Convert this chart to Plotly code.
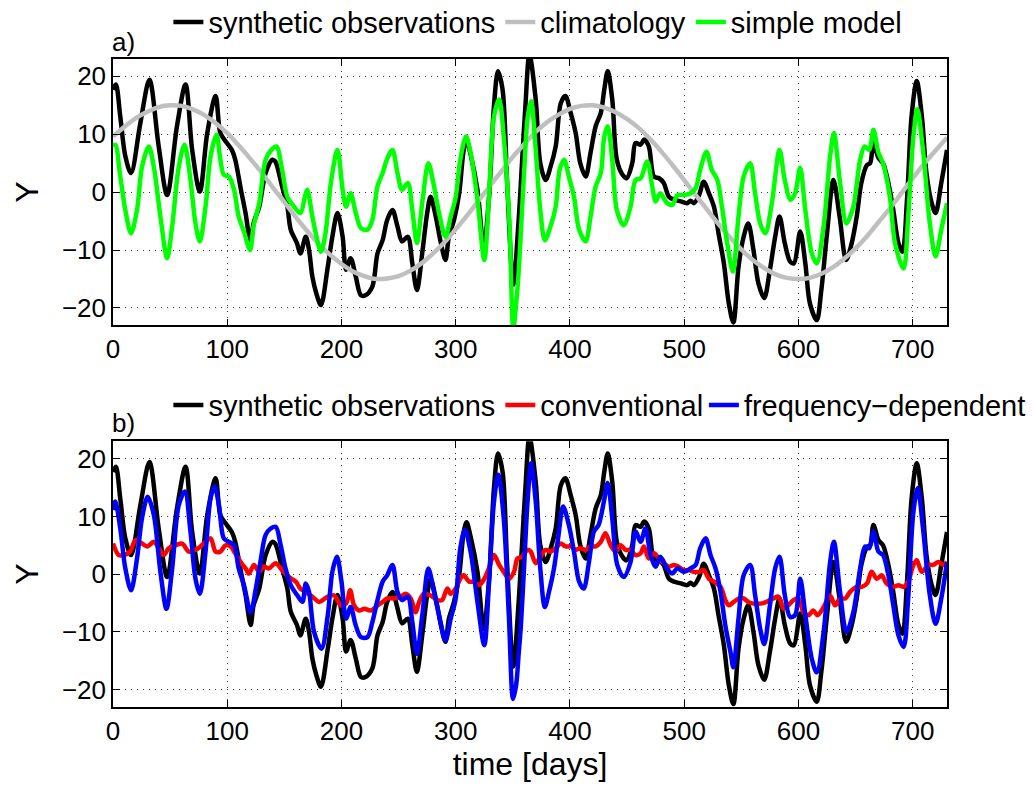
import plotly.graph_objects as go

# ---------------- data ----------------
obs_days = [0, 2.5, 6.4, 10.8, 15.8, 24, 31.9, 40, 47.4, 56, 63.5, 69.3, 76, 82.5, 89.8,
            94, 98.5, 104, 107, 112, 116, 120.5, 123, 128, 133.6, 139.5, 142, 148, 152.6,
            155.6, 161, 164, 168.7, 171.6, 174.5, 178, 182, 188, 192, 196.5, 201, 204, 208,
            212.5, 217, 221, 227, 231.5, 236, 240, 244.6, 249, 253, 258, 262, 266, 271, 275,
            278, 282.5, 287, 291, 294, 298.5, 303, 307, 309.5, 313, 319, 324.5, 329, 333.5,
            337, 341, 345, 350.4, 355, 358, 361, 364.5, 370, 374, 378.7, 383, 387.5, 392, 396,
            400.6, 405, 409, 413.7, 418, 422.5, 427, 430, 433, 437, 441, 446, 449.6, 454.5,
            457.4, 461.8, 465, 469, 473.5, 478, 482, 486.6, 491, 497, 502.6, 505.5, 508.5, 513,
            517, 521.6, 526, 530, 534.7, 539, 543, 547.5, 552, 556, 560.6, 565, 570, 575, 579.6,
            583.4, 588, 592.7, 596, 601.5, 606, 610, 616, 620, 625, 630.6, 636, 641.7, 646.6,
            651, 655, 660, 662.7, 665.6, 670, 674, 678.7, 683, 687.5, 691, 695, 699, 703.5, 708,
            712, 716.6, 720, 725, 730]
obs_vals = [17.7, 18.6, 13.0, 6.2, 3.3, 12.0, 19.4, 7.9, -0.5, 11.4, 18.6, 7.3, 0.1, 10.2, 16.6,
            10.2, 8.8, 7.3, 5.6, 0.4, -3.6, -8.8, -5.4, -2.5, 3.3, 5.6, 5.3, 1.0, -2.5,
            -6.5, -8.8, -10.6, -7.7, -10.0, -14.6, -17.5, -19.5, -12.9, -7.7, -3.6, -7.7, -13.4, -11.4,
            -14.6, -17.8, -17.8, -16.3, -10.6, -8.3, -4.8, -3.1, -5.9, -8.5, -7.7, -12.3, -16.9, -10.0, -3.6,
            -0.8, -4.2, -8.8, -11.7, -7.7, -4.8, -0.2, 7.3, 9.0, 6.5, 0.4, -9.5, -1.3, 15.0,
            20.9, 17.7, 1.6, -16.0, -5.0, 5.0, 15.0, 23.8, 16.0, 5.0, 2.1, 4.4, 7.9, 15.4, 16.6,
            13.7, 10.2, 5.0, 2.7, 6.8, 11.4, 13.7, 17.7, 20.9, 16.0, 5.6, 3.0, 2.4, 5.0,
            8.5, 8.2, 9.1, 7.9, 2.7, 2.4, 1.6, -0.8, -1.3, -1.6, -1.9, -1.5, -1.9, -0.5,
            1.8, -0.2, -2.5, -7.1, -12.3, -19.2, -22.5, -12.9, -7.7, -5.4, -10.0, -15.8, -18.3, -13.4, -7.7,
            -4.2, -8.8, -12.0, -12.3, -6.8, -12.3, -19.2, -22.1, -16.9, -7.1, 2.1, -4.2, -11.7, -8.8,
            -4.2, 1.6, 4.7, 5.0, 8.5, 5.9, 5.0, 1.6, -3.1, -8.8, -10.3, -1.3, 13.1, 19.2, 13.1,
            3.3, -1.9, -3.6, 1.6, 7.3]

clim_days = list(range(0, 731, 10))
clim_vals = [9.6, 11.3, 12.8, 13.9, 14.7, 15.0, 14.9, 14.3, 13.3, 11.9, 10.2, 8.1, 5.8, 3.4, 0.8,
             -1.7, -4.3, -6.7, -8.9, -10.8, -12.4, -13.7, -14.5, -15.0, -14.9, -14.5, -13.6, -12.3,
             -10.6, -8.7, -6.4, -4.0, -1.5, 1.1, 3.6, 6.1, 8.3, 10.4, 12.1, 13.4, 14.4, 14.9, 15.0,
             14.6, 13.8, 12.6, 11.1, 9.2, 7.0, 4.6, 2.1, -0.5, -3.0, -5.5, -7.8, -9.9, -11.7, -13.1,
             -14.2, -14.8, -15.0, -14.8, -14.1, -13.0, -11.5, -9.7, -7.6, -5.2, -2.8, -0.2, 2.4,
             4.9, 7.2, 9.4]

simple_days = [0, 2, 6.4, 10.8, 15.8, 21, 25.4, 31.3, 35.7, 41.5, 47.4, 51.8, 57.6, 62.6, 67.8,
               72.2, 76, 81, 85.4, 90.6, 94, 97, 101.5, 106, 110, 114.6, 120, 123, 128, 133.6,
               138.6, 143, 148, 152.6, 158.5, 164, 168, 170, 174.5, 177.5, 182, 186, 190.7, 196.5,
               201, 204, 208, 212.5, 217, 222.7, 227, 231.5, 236, 239.7, 244.6, 249, 253, 258, 262,
               266, 271, 276, 281, 285.4, 291, 295.6, 300, 304, 309, 313, 319, 325, 329, 333.5, 338,
               342, 347, 350.4, 353, 355, 357, 360, 363, 366, 370, 374, 378, 383, 387.5, 391, 394.8,
               399, 403.5, 408, 413.7, 418, 422.5, 427, 430, 433, 437, 441, 447, 453, 457.4, 461.8,
               467.6, 472, 475, 479, 485, 489.5, 494, 499.7, 505.5, 510, 514, 519.5, 524, 529, 533,
               537.6, 542.6, 547.5, 552, 557.7, 562, 566.5, 571, 576.7, 583.4, 588, 593, 597, 601.5,
               606, 611.7, 616, 622, 627.7, 631, 636.4, 642, 648, 654, 658, 662, 665.6, 670, 674, 680,
               684.5, 692, 696, 700.6, 704, 709, 715, 720, 725, 730]
simple_vals = [7.9, 8.2, 2.7, -3.1, -7.1, -3.1, 4.4, 7.9, 4.4, -4.2, -11.4, -5.9, 4.4, 8.2, 2.1,
               -5.4, -8.5, -2.5, 6.2, 9.9, 5.6, 3.0, 2.7, 0.4, -4.2, -6.8, -10.0, -5.9, -1.9, 5.6,
               7.3, 7.9, 3.9, -0.8, -2.5, -3.6, -0.8, 0.4, -4.2, -7.1, -10.3, -7.1, 1.6, 7.3,
               0.4, -2.5, -0.2, -3.6, -6.2, -6.5, -4.8, 1.0, 3.3, 5.6, 7.3, 3.3, 0.4, 1.6, -3.1,
               -8.8, -1.3, 5.0, 1.0, -3.6, -7.7, -4.2, -0.8, 5.6, 9.6, 6.8, -1.3, -11.7, -1.3, 13.1, 16.0,
               9.6, -5.4, -23.6, -19.0, -14.0, -7.0, 4.0, 13.0, 15.7, 7.3, -3.1, -8.3, -5.9, -2.5, 3.9, 5.6,
               2.7, -0.8, -6.5, -8.5, -4.2, 1.0, 3.3, 9.6, 11.4, 5.6, -3.1, -5.7, -2.5, 2.1, 2.4,
               5.3, 1.0, -1.6, -0.2, -1.9, -2.2, -0.5, -0.5, -0.2, 0.7, 3.9, 7.0, 3.9, 2.1, -2.5,
               -8.8, -13.7, -4.2, 2.7, 5.0, -0.2, -5.4, -7.1, -1.9, 7.3, 2.1, -1.3, -0.2, 4.2,
               -3.1, -10.6, -12.3, -5.9, 6.2, 10.2, 1.6, -5.4, -2.5, 5.6, 7.9, 7.3, 10.8, 6.8, 5.0, -0.8,
               -8.8, -13.2, -4.2, 9.6, 14.3, 7.3, -5.4, -11.1, -6.5, -1.9]

conv_days = [0, 5, 9.4, 15, 19.6, 25.4, 30, 35.7, 40, 44.4, 48.8, 54.7, 60.5, 66.4, 72.2, 76.6,
             81, 85.4, 89.8, 94, 98.5, 103, 107, 111.7, 116, 119, 123.4, 128, 132, 136.5, 142.4,
             148, 154, 160, 164, 168.7, 174.6, 180.4, 188, 193.6, 199.4, 204, 207.6, 211, 215.5,
             220, 225.6, 231.5, 236, 240, 246, 252, 256, 260.6, 265, 268, 272, 278, 284, 288,
             292.7, 295.6, 300, 304, 307, 311.7, 316, 320.4, 325, 329, 333.5, 338, 342, 346.6,
             351, 354, 358, 362.7, 365.6, 370, 374, 378.7, 383, 387.5, 392, 396, 400.6, 405, 409,
             413.7, 418, 422.5, 427, 431, 435.6, 440, 444.3, 448.7, 453, 457.4, 461.8, 464.7, 469,
             473.5, 477.8, 482, 486.6, 491, 495, 499.7, 504, 508.5, 513, 517, 521.6, 526, 531.8,
             536, 539, 543.4, 548, 552, 556, 560.6, 566.5, 572, 578, 582.5, 587, 591, 595.6, 600,
             604.4, 608.7, 613, 616.6, 622, 627.7, 632, 636.4, 641, 645, 651, 655.4, 660, 664,
             668.5, 673, 677, 683, 687.5, 692, 696, 700.6, 703.5, 708, 713.7, 718, 722.4, 727, 730]
conv_vals = [5.3, 3.3, 3.3, 3.9, 5.9, 5.3, 4.8, 5.6, 4.5, 3.3, 4.5, 5.0, 5.3, 3.9, 4.2, 4.8,
             5.6, 6.2, 3.9, 3.9, 5.0, 4.8, 3.6, 2.1, 1.0, 0.1, 1.6, 0.4, 1.3, 1.0, 1.9,
             0.7, -0.5, -1.3, -2.5, -3.1, -3.9, -4.8, -3.9, -3.7, -5.4, -5.1, -2.8, -5.4, -6.3,
             -6.0, -6.3, -5.4, -4.8, -4.2, -4.2, -3.9, -3.4, -4.2, -6.6, -4.8, -3.4, -3.7, -4.5, -4.5,
             -2.5, -3.4, -2.5, -0.8, -0.2, -1.3, -1.3, -1.9, -0.8, 1.0, 3.3, 1.6, 0.4, -0.8,
             0.4, 2.7, 3.0, 4.2, 3.9, 1.9, 3.0, 4.2, 3.9, 4.5, 5.3, 4.8, 4.8, 4.2, 4.5,
             4.2, 4.8, 4.8, 5.6, 7.1, 5.0, 3.9, 5.0, 4.2, 4.2, 3.3, 3.6, 4.8, 2.7,
             3.6, 2.7, 1.9, 1.3, 1.6, 1.3, 0.7, 0.7, 0.4, 0.4, 0.7, -0.8, -1.3, -2.2,
             -4.5, -5.4, -4.8, -4.2, -4.2, -4.8, -5.1, -5.1, -4.8, -4.2, -3.9, -6.0, -5.4, -4.5, -4.2,
             -6.6, -7.1, -6.3, -7.1, -5.7, -3.7, -5.4, -4.2, -4.2, -3.1, -2.2, -2.2, -1.6, 0.4,
             -0.8, -0.2, -1.6, -2.2, -1.9, -2.2, -1.3, 1.6, 2.4, 0.4, 1.6, 1.6, 2.1, 1.6, 2.1]

freq_days = [0, 2, 6.4, 10.8, 15.8, 21, 25.4, 30.4, 35.7, 41.5, 46.8, 51.8, 57.6, 62.9, 67.8,
             72.2, 76, 81, 85.4, 88.9, 92.7, 97, 101.5, 106, 110, 114.6, 120.5, 125, 129, 133.6,
             138, 142.4, 146.8, 151, 155.6, 161.4, 165.8, 168.7, 171.6, 176, 182.5, 188, 192, 196,
             200, 204, 208, 212.5, 217, 222.7, 227, 231.5, 236, 240, 244.6, 249, 253, 258, 262,
             266, 271, 276, 281, 285.4, 291, 295.6, 300, 304, 308, 313, 319, 325, 329, 333.5,
             337.3, 342, 346.6, 350.2, 353, 355, 357, 360, 363, 366, 370, 374, 378, 381.6, 386,
             390, 394, 399, 403.5, 408, 412, 416.6, 421, 425, 429.7, 433, 437, 441.4, 447, 453,
             457.4, 461.8, 466, 470.6, 475, 479, 485, 489.5, 494, 500, 505.5, 510, 514, 518.7,
             523, 527.4, 531.8, 536, 540.5, 543, 547.5, 552, 557.7, 562, 566.5, 570, 575, 579.6,
             583.4, 588, 592.7, 597, 601.5, 606, 611.7, 616, 622, 627.7, 631, 636.4, 642, 648,
             654, 658.3, 662, 665.6, 670, 674, 678.7, 683, 687.5, 692, 696, 700.6, 704.4, 709,
             715, 720, 725, 730]
freq_vals = [11.1, 12.6, 7.9, 1.0, -2.8, 2.7, 9.7, 13.4, 10.3, 0.4, -6.0, 1.0, 12.0, 14.3, 7.4,
             -0.8, -3.4, 3.9, 13.2, 15.2, 12.0, 6.2, 5.6, 5.0, 1.0, -1.9, -6.6, -2.5, 2.1, 6.8,
             7.9, 8.2, 5.0, 1.0, -1.9, -3.7, -4.8, -1.6, -3.1, -10.0, -12.9, -7.1, 0.4, 3.0,
             -1.3, -7.7, -5.7, -8.9, -10.9, -10.9, -8.3, -4.5, -1.3, -0.2, 1.6, -3.1, -4.5, -3.9, -8.3,
             -13.8, -6.6, 1.0, -3.1, -7.1, -11.5, -7.7, -4.2, 4.5, 7.7, 3.9, -4.8, -12.3, -1.9, 12.6,
             17.2, 9.7, -7.7, -21.6, -19.0, -14.0, -9.0, 2.0, 13.0, 19.2, 12.6, 1.0, -5.7, -3.1, 1.0,
             6.8, 11.7, 8.5, 3.9, -1.3, -2.5, 2.1, 7.4, 8.5, 12.6, 15.8, 9.7, 1.6, -0.5, 2.1,
             7.4, 5.6, 7.9, 3.3, 1.3, 3.0, 1.0, 0.1, 1.0, 0.4, 1.0, 1.6, 4.5, 6.2,
             3.3, 1.0, -3.1, -8.9, -13.5, -16.1, -7.7, -0.2, 1.6, -3.6, -9.5, -12.1, -5.4, 1.0,
             3.0, -3.6, -7.4, -7.1, -0.8, -7.1, -14.7, -17.0, -10.0, 2.1, 5.6, -3.1, -10.0, -6.6,
             1.0, 4.8, 4.5, 7.4, 3.9, 3.3, -0.2, -5.4, -10.6, -12.6, -4.2, 10.8, 14.9, 7.9,
             -3.7, -8.6, -4.2, 2.1]

x_ticks = [0, 100, 200, 300, 400, 500, 600, 700]
y_ticks = [-20, -10, 0, 10, 20]

# ---------------- figure ----------------
FONT = "Liberation Sans, Arial, Helvetica, sans-serif"
W = 4.5

def line(x, y, color, name, xa, ya, legend):
    return go.Scatter(x=x, y=y, mode="lines", name=name, xaxis=xa, yaxis=ya, legend=legend,
                      line=dict(color=color, width=W, shape="spline", smoothing=0.9))

fig = go.Figure()
fig.add_trace(line(obs_days, obs_vals, "#000000", "synthetic observations", "x", "y", "legend"))
fig.add_trace(line(clim_days, clim_vals, "#bfbfbf", "climatology", "x", "y", "legend"))
fig.add_trace(line(simple_days, simple_vals, "#00ff00", "simple model", "x", "y", "legend"))
fig.add_trace(line(obs_days, obs_vals, "#000000", "synthetic observations", "x2", "y2", "legend2"))
fig.add_trace(line(conv_days, conv_vals, "#ff0000", "conventional", "x2", "y2", "legend2"))
fig.add_trace(line(freq_days, freq_vals, "#0000ff", "frequency\u2212dependent", "x2", "y2", "legend3"))

ax = dict(showline=True, linecolor="black", linewidth=1.5, mirror="ticks",
          ticks="inside", ticklen=7, tickwidth=1.2, tickcolor="black",
          showgrid=True, gridcolor="#3c3c3c", gridwidth=1, griddash="1px,5px",
          zeroline=False, automargin=False,
          tickfont=dict(size=26, color="black", family=FONT))

LEG = dict(orientation="h", xanchor="left", yanchor="middle", font=dict(size=29),
           bgcolor="rgba(0,0,0,0)", itemwidth=30, tracegroupgap=0)

fig.update_layout(
    width=1034, height=785,
    margin=dict(l=112.6, r=86.7, t=59.3, b=78.3, autoexpand=False),
    paper_bgcolor="white", plot_bgcolor="white",
    font=dict(family=FONT, color="black"),
    xaxis=dict(ax, domain=[0, 1], range=[0, 730], tickvals=x_ticks, anchor="y"),
    yaxis=dict(ax, domain=[0.589, 1.0], range=[-23, 23], tickvals=y_ticks, anchor="x",
               title=dict(text="Y", font=dict(size=32), standoff=14)),
    xaxis2=dict(ax, domain=[0, 1], range=[0, 730], tickvals=x_ticks, anchor="y2",
                title=dict(text="time [days]", font=dict(size=32), standoff=2)),
    yaxis2=dict(ax, domain=[0.0, 0.410], range=[-23, 23], tickvals=y_ticks, anchor="x2",
                title=dict(text="Y", font=dict(size=32), standoff=14)),
    legend=dict(LEG, x=0.0664, y=1.057),
    legend2=dict(LEG, x=0.0664, y=0.466),
    legend3=dict(LEG, x=0.7085, y=0.466),
    annotations=[
        dict(text="a)", xref="paper", yref="paper", x=-0.003, y=1.026, xanchor="left",
             yanchor="middle", showarrow=False, font=dict(size=26)),
        dict(text="b)", xref="paper", yref="paper", x=-0.003, y=0.438, xanchor="left",
             yanchor="middle", showarrow=False, font=dict(size=26)),
    ],
)

# remove the browser's default 8 px body margin so the 1034x785 figure fills the window
fig.write_html("out.html", config={"displayModeBar": False},
               post_script="document.body.style.margin='0px';")
